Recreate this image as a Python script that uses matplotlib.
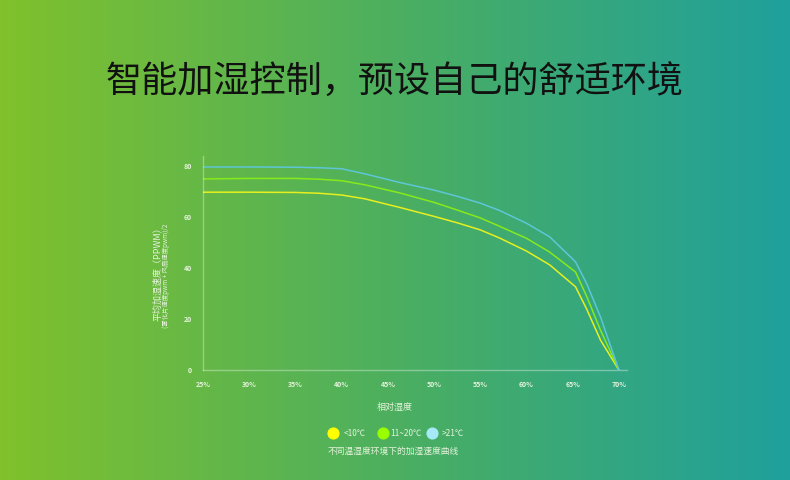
import numpy as np
import matplotlib.pyplot as plt
from matplotlib.colors import LinearSegmentedColormap

plt.rcParams['font.family'] = ['Noto Sans CJK SC', 'DejaVu Sans']

#---datos---#
titulo = "智能加湿控制，预设自己的舒适环境"
x_label = "相对湿度"
y_label1 = "平均加湿速度（PPWM）"
y_label2 = "(雾化片速度pwm + 风扇速度pwm)/2"
caption = "不同温湿度环境下的加湿速度曲线"
series_names = ["<10℃", "11~20℃", ">21℃"]

humedad = [25, 30, 35, 37.5, 40, 42.5, 46.3, 50, 52.5, 55, 57.1, 60, 62.5, 65.3, 66.5, 68, 70]
bajo = [69.8, 69.8, 69.7, 69.4, 68.7, 67.2, 63.8, 60.3, 57.8, 55, 51.8, 46.7, 41.3, 32.7, 24, 11.8, 0]
medio = [75.0, 75.2, 75.2, 74.9, 74.3, 72.7, 69.5, 65.8, 62.8, 59.7, 56.4, 51.7, 46.3, 38.5, 29, 15.7, 0]
alto = [79.7, 79.7, 79.6, 79.4, 79.0, 77.0, 73.6, 70.6, 68.2, 65.5, 62.6, 57.6, 52.3, 42.5, 34, 20.9, 0]

x_ticks = [25, 30, 35, 40, 45, 50, 55, 60, 65, 70]
y_ticks = [0, 20, 40, 60, 80]

line_colors = ["#e6f020", "#86ea1c", "#5ec6d6"]
dot_colors = ["#ffff00", "#99ff00", "#a6e9f7"]
txt = "#e6f3dc"

fig = plt.figure(figsize=(7.9, 4.8), dpi=100)

# fondo degradado
bg = fig.add_axes([0, 0, 1, 1])
cmap = LinearSegmentedColormap.from_list("bg", ["#80c12c", "#4caf60", "#1fa09c"])
bg.imshow(np.linspace(0, 1, 256).reshape(1, -1), aspect="auto", cmap=cmap, extent=[0, 1, 0, 1])
bg.set_xlim(0, 1)
bg.set_ylim(0, 1)
bg.axis("off")

fig.text(0.5, 0.827, titulo, ha="center", va="center", fontsize=26, color="#111111")

ax = fig.add_axes([0.257, 0.229, 0.537, 0.446])
ax.patch.set_alpha(0)
for serie, c in zip([bajo, medio, alto], line_colors):
    ax.plot(humedad, serie, color=c, lw=1.1, solid_joinstyle="round")

ax.set_xlim(25, 70.9)
ax.set_ylim(0, 84)
ax.set_xticks(x_ticks)
ax.set_xticklabels([f"{v}%" for v in x_ticks])
ax.set_yticks(y_ticks)
ax.tick_params(length=0, colors=txt, labelsize=5)
ax.tick_params(axis="x", pad=8)
ax.tick_params(axis="y", pad=8)
for lab in ax.get_xticklabels() + ax.get_yticklabels():
    lab.set_fontweight("bold")
for s in ["top", "right"]:
    ax.spines[s].set_visible(False)
for s in ["left", "bottom"]:
    ax.spines[s].set_color((1, 1, 1, 0.35))
    ax.spines[s].set_linewidth(1)

fig.text(158 / 790, 1 - 272 / 480, y_label1, rotation=90, ha="center", va="center", fontsize=6.5, color=txt)
fig.text(166 / 790, 1 - 276 / 480, y_label2, rotation=90, ha="center", va="center", fontsize=4.6, color=txt)
fig.text(395 / 790, 1 - 407 / 480, x_label, ha="center", va="center", fontsize=6.5, color=txt)

# leyenda
dot_x = [333, 383, 432]
lab_x = [344, 390, 442]
for dx, lx, c, nombre in zip(dot_x, lab_x, dot_colors, series_names):
    bg.scatter(dx / 790, 1 - 433 / 480, s=60, color=c, zorder=3)
    fig.text(lx / 790, 1 - 433 / 480, nombre, ha="left", va="center", fontsize=6, color=txt)

fig.text(393 / 790, 1 - 451 / 480, caption, ha="center", va="center", fontsize=6.3, color=txt)

plt.savefig("out.png", dpi=100)
